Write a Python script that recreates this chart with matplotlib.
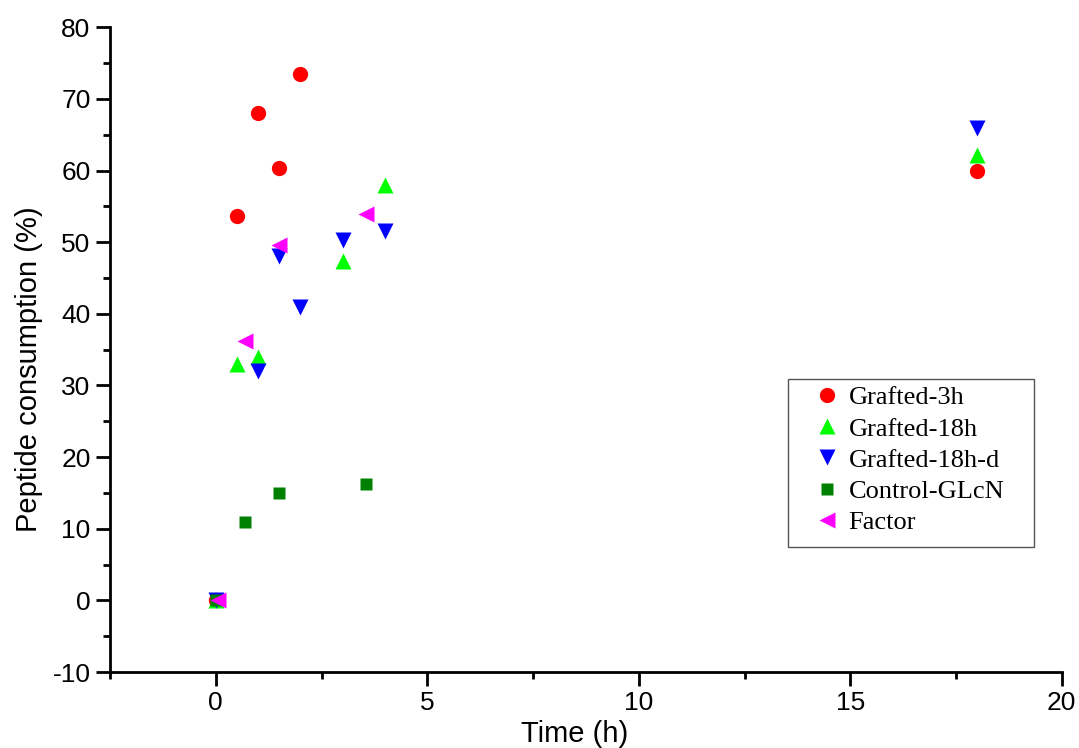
import matplotlib.pyplot as plt
from matplotlib.patches import Rectangle
from matplotlib.ticker import MultipleLocator

plt.rcParams['axes.unicode_minus'] = False

g3_t = [0, 0.5, 1, 1.5, 2, 18]
g3_v = [0, 53.7, 68.0, 60.3, 73.5, 59.9]

g18_t = [0, 0.5, 1, 3, 4, 18]
g18_v = [0, 33.0, 34.0, 47.3, 58.0, 62.2]

g18d_t = [0, 1, 1.5, 2, 3, 4, 18]
g18d_v = [0, 32.0, 48.0, 41.0, 50.3, 51.5, 66.0]

ctrl_t = [0, 0.7, 1.5, 3.55]
ctrl_v = [0, 11.0, 15.0, 16.3]

fac_t = [0.05, 0.7, 1.5, 3.55]
fac_v = [0, 36.2, 49.6, 53.9]

W, H = 1079, 748
fig = plt.figure(figsize=(W / 100, H / 100), dpi=100)
ax = fig.add_axes([0.102, 0.1016, 0.882, 0.862])

ax.plot(g3_t, g3_v, 'o', color='#ff0000', markersize=11, mec='none', label='Grafted-3h')
ax.plot(g18_t, g18_v, '^', color='#00ff00', markersize=12, mec='none', label='Grafted-18h')
ax.plot(g18d_t, g18d_v, 'v', color='#0000ff', markersize=12, mec='none', label='Grafted-18h-d')
ax.plot(ctrl_t, ctrl_v, 's', color='#008000', markersize=9, mec='none', label='Control-GLcN')
ax.plot(fac_t, fac_v, '<', color='#ff00ff', markersize=12, mec='none', label='Factor')

ax.set_xlim(-2.5, 20)
ax.set_ylim(-10, 80)
ax.xaxis.set_major_locator(MultipleLocator(5))
ax.xaxis.set_minor_locator(MultipleLocator(2.5))
ax.yaxis.set_major_locator(MultipleLocator(10))
ax.yaxis.set_minor_locator(MultipleLocator(5))

for s in ['top', 'right']:
    ax.spines[s].set_visible(False)
for s in ['left', 'bottom']:
    ax.spines[s].set_linewidth(2)

ax.tick_params(which='major', direction='out', length=10, width=2,
               labelsize=19, pad=4)
ax.tick_params(which='minor', direction='out', length=5, width=2)
for lab in ax.get_xticklabels() + ax.get_yticklabels():
    lab.set_family('Liberation Sans')

ax.set_xlabel('Time (h)', fontsize=21, family='Liberation Sans')
ax.set_ylabel('Peptide consumption (%)', fontsize=21, family='Liberation Sans')
ax.xaxis.set_label_coords(0.488, -0.074)
ax.yaxis.set_label_coords(-0.070, 0.469)

# legend without its own frame, box drawn separately to match the original size
leg = ax.legend(loc='upper left', bbox_to_anchor=(793 / W, 1 - 386 / H),
                bbox_transform=fig.transFigure, borderaxespad=0,
                prop={'family': 'Liberation Serif', 'size': 19},
                frameon=False, handletextpad=-0.5, labelspacing=0.29,
                borderpad=0, handlelength=2.6, numpoints=1)
fig.patches.append(Rectangle((788 / W, 1 - 547 / H), (1034 - 788) / W, (547 - 379) / H,
                             transform=fig.transFigure, fill=False,
                             edgecolor='#555555', linewidth=1))

fig.savefig('out.png', dpi=100)
